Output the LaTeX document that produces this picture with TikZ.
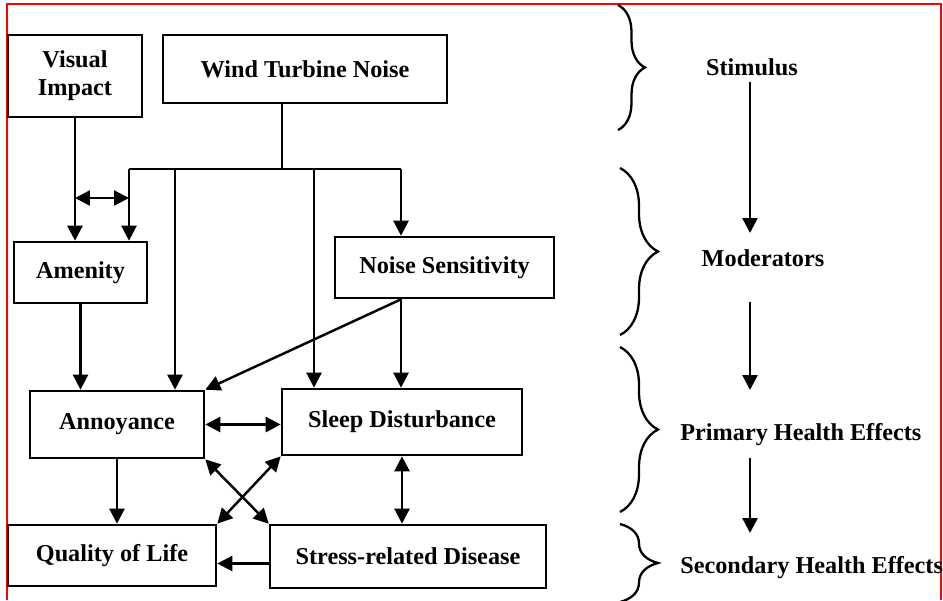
\documentclass[tikz,border=0pt]{standalone}
\usepackage{fontspec}
\setmainfont{Liberation Serif}
\usetikzlibrary{arrows.meta,decorations.pathreplacing}

\begin{document}
\begin{tikzpicture}[x=0.02cm,y=-0.02cm,
 >={Triangle[length=3mm,width=3mm]},
 ln/.style={line width=1.4pt},
 box/.style={draw,line width=1.5pt,inner sep=0pt,align=center,font=\fontsize{13.8}{16}\selectfont\bfseries},
 lbl/.style={inner sep=0pt,font=\fontsize{13.8}{16}\selectfont\bfseries},
 brc/.style={decorate,decoration={brace,amplitude=#1},line width=1.3pt}]
 \useasboundingbox (0,0) rectangle (943,600);
 \draw[red,line width=1.2pt] (7,600) -- (7,4) -- (941,4) -- (941,600); %枠

 \node[box,minimum width=2.68cm,minimum height=1.64cm] (vi) at (75,76) {Visual\\Impact}; %視覚
 \node[box,minimum width=5.68cm,minimum height=1.36cm] (wtn) at (305,69) {Wind Turbine Noise}; %騒音
 \node[box,minimum width=2.66cm,minimum height=1.22cm] (ame) at (80.5,272.5) {Amenity};
 \node[box,minimum width=4.38cm,minimum height=1.22cm] (ns) at (444.5,267.5) {Noise Sensitivity};
 \node[box,minimum width=3.48cm,minimum height=1.34cm] (ann) at (117,424.5) {Annoyance};
 \node[box,minimum width=4.8cm,minimum height=1.32cm] (sl) at (402,422) {Sleep Disturbance};
 \node[box,minimum width=4.16cm,minimum height=1.22cm] (qol) at (112,555.5) {Quality of Life};
 \node[box,minimum width=5.52cm,minimum height=1.26cm] (st) at (408,556.5) {Stress-related Disease};

 \coordinate (br) at (282,169); %分岐点
 \coordinate (b1) at (129,169);
 \coordinate (b2) at (175,169);
 \coordinate (b3) at (314,169);
 \coordinate (b4) at (401,169);
 \coordinate (dl) at (75,198); %双方向矢印
 \coordinate (dr) at (129,198);
 \draw[ln] (wtn.south -| br) -- (br);
 \draw[ln] (b1) -- (b4);
 \draw[ln,->] (b1) -- (b1 |- ame.north);
 \draw[ln,->] (b2) -- (b2 |- ann.north);
 \draw[ln,->] (b3) -- (b3 |- sl.north);
 \draw[ln,->] (b4) -- (b4 |- ns.north);
 \draw[ln,->] (vi.south) -- (vi.south |- ame.north);
 \draw[ln,<->] (dl) -- (dr);
 \draw[ln,->] (ame.south) -- (ame.south |- ann.north);
 \draw[ln,->] (b4 |- ns.south) -- (ann.north east);
 \draw[ln,->] (b4 |- ns.south) -- (b4 |- sl.north);
 \draw[ln,<->] (ann.east) -- (ann.east -| sl.west);
 \draw[ln,->] (ann.south) -- (ann.south |- qol.north);
 \draw[ln,<->] (ann.south east) -- (st.north west);
 \draw[ln,<->] (sl.south west) -- (qol.north east);
 \draw[ln,<->] (sl.south) -- (sl.south |- st.north);
 \draw[ln,->] ([yshift=-1.4mm]st.west) -- ([yshift=-1.4mm]st.west -| qol.east);

 \node[lbl] (stim) at (752,67) {Stimulus}; %右側
 \node[lbl] (mod) at (763,258) {Moderators};
 \node[lbl,anchor=west] (prim) at (680,435) {Primary Health Effects};
 \node[lbl,anchor=west] (sec) at (680,568) {Secondary Health Effects};
 \coordinate (s1) at (750,82);
 \coordinate (s2) at (750,233);
 \coordinate (s3) at (750,302);
 \coordinate (s4) at (750,390);
 \coordinate (s5) at (750,458);
 \coordinate (s6) at (750,533);
 \draw[ln,->] (s1) -- (s2);
 \draw[ln,->] (s3) -- (s4);
 \draw[ln,->] (s5) -- (s6);

 \draw[brc=0.54cm] (618,5) -- (618,130); %括弧
 \draw[brc=0.76cm] (620,168) -- (620,335);
 \draw[brc=0.76cm] (620,347) -- (620,512);
 \draw[brc=0.76cm] (620,524) -- (620,602);
\end{tikzpicture}
\end{document}
